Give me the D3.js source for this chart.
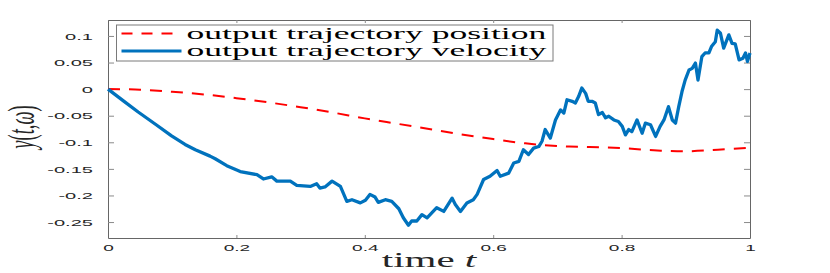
<!DOCTYPE html>
<html>
<head>
<meta charset="utf-8">
<script src="https://cdn.jsdelivr.net/npm/d3@7"></script>
<style>
  html, body { margin: 0; padding: 0; background: #fff; }
  svg { display: block; }
</style>
</head>
<body>
<svg id="chart" width="830" height="273"></svg>
<script>
// position curve (red dashed)
const posT = [0, 0.05, 0.1, 0.15, 0.2, 0.25, 0.3, 0.35, 0.4, 0.45, 0.5, 0.55, 0.6, 0.65, 0.7, 0.75, 0.8, 0.85, 0.9, 0.95, 1];
const posY = [0, -0.001, -0.005, -0.010, -0.017, -0.025, -0.034, -0.044, -0.055, -0.065, -0.075, -0.085, -0.094, -0.102, -0.107, -0.109, -0.111, -0.115, -0.117, -0.114, -0.110];

// velocity curve (blue)
const velT = [0, 0.025, 0.047, 0.075, 0.099, 0.12, 0.136, 0.159, 0.167, 0.185, 0.206, 0.232, 0.242, 0.255, 0.263, 0.284, 0.294, 0.315, 0.325, 0.330, 0.338, 0.349, 0.362,
  0.372, 0.380, 0.393, 0.401, 0.408, 0.416, 0.421, 0.432, 0.442, 0.453, 0.460, 0.468, 0.473, 0.481, 0.489, 0.497, 0.512, 0.523, 0.536, 0.541,
  0.549, 0.559, 0.569, 0.575, 0.585, 0.595, 0.606, 0.611, 0.624, 0.632, 0.640, 0.647, 0.655, 0.663, 0.671, 0.676, 0.681, 0.689, 0.697, 0.705,
  0.710, 0.715, 0.723, 0.728, 0.733, 0.738, 0.744, 0.748, 0.754, 0.759, 0.764, 0.770, 0.775, 0.780, 0.788, 0.795, 0.801, 0.806, 0.811, 0.816,
  0.824, 0.832, 0.837, 0.845, 0.853, 0.860, 0.866, 0.873, 0.879, 0.884, 0.889, 0.894, 0.899, 0.905, 0.910, 0.915, 0.919, 0.925, 0.930, 0.936,
  0.940, 0.946, 0.949, 0.954, 0.959, 0.967, 0.972, 0.977, 0.983, 0.989, 0.993, 0.996, 1.0];
const velY = [0, -0.023, -0.043, -0.067, -0.088, -0.104, -0.114, -0.126, -0.131, -0.144, -0.155, -0.161, -0.169, -0.165, -0.173, -0.173, -0.181, -0.183, -0.178, -0.186, -0.184, -0.173, -0.183,
  -0.211, -0.208, -0.214, -0.209, -0.198, -0.203, -0.213, -0.208, -0.211, -0.225, -0.242, -0.256, -0.248, -0.248, -0.236, -0.242, -0.223, -0.230, -0.205, -0.217,
  -0.230, -0.214, -0.208, -0.198, -0.170, -0.164, -0.153, -0.164, -0.158, -0.139, -0.136, -0.114, -0.123, -0.111, -0.108, -0.098, -0.076, -0.092, -0.058, -0.039,
  -0.045, -0.020, -0.023, -0.026, -0.014, 0.002, -0.008, -0.023, -0.023, -0.026, -0.048, -0.044, -0.054, -0.051, -0.058, -0.061, -0.070, -0.086, -0.076, -0.080,
  -0.058, -0.083, -0.064, -0.067, -0.089, -0.070, -0.058, -0.033, -0.058, -0.064, -0.033, -0.005, 0.017, 0.036, 0.039, 0.049, 0.017, 0.061, 0.068, 0.068,
  0.080, 0.089, 0.111, 0.105, 0.077, 0.102, 0.086, 0.085, 0.055, 0.058, 0.068, 0.052, 0.068];

const xTicks = [0, 0.2, 0.4, 0.6, 0.8, 1];
const xTickLabels = ["0", "0.2", "0.4", "0.6", "0.8", "1"];
const yTicks = [-0.25, -0.2, -0.15, -0.1, -0.05, 0, 0.05, 0.1];
const yTickLabels = ["-0.25", "-0.2", "-0.15", "-0.1", "-0.05", "0", "0.05", "0.1"];
const legendLabels = ["output trajectory position", "output trajectory velocity"];

const SX = 2.05; // the figure is stretched sideways
const plotL = 108, plotR = 750, plotT = 20, plotB = 238;
const svg = d3.select("#chart");

const x = d3.scaleLinear().domain([0, 1]).range([plotL, plotR]);
const y = d3.scaleLinear().domain([-0.28, 0.13]).range([plotB, plotT]);

const axisColor = "#666";
const textColor = "#262626";

function styleAxis(g) {
  g.select(".domain").attr("stroke", axisColor).attr("stroke-width", 1);
  g.selectAll(".tick line").attr("stroke", "#8a8a8a").attr("stroke-width", 1);
}

// bottom / top axes
const gx = svg.append("g").attr("transform", `translate(0,${plotB})`)
  .call(d3.axisBottom(x).tickValues(xTicks).tickFormat((d, i) => xTickLabels[i])
    .tickSizeInner(-3).tickSizeOuter(0).tickPadding(6));
styleAxis(gx);
gx.selectAll("text")
  .attr("font-family", "'Liberation Sans', Arial, sans-serif")
  .attr("font-size", 9.3).attr("fill", textColor)
  .attr("transform", `scale(${SX},1)`);

const gxt = svg.append("g").attr("transform", `translate(0,${plotT})`)
  .call(d3.axisTop(x).tickValues(xTicks).tickFormat("").tickSizeInner(-3).tickSizeOuter(0));
styleAxis(gxt);

// left / right axes
const gy = svg.append("g").attr("transform", `translate(${plotL},0)`)
  .call(d3.axisLeft(y).tickValues(yTicks).tickFormat((d, i) => yTickLabels[i])
    .tickSizeInner(-6).tickSizeOuter(0).tickPadding(15));
styleAxis(gy);
gy.selectAll("text")
  .attr("font-family", "'Liberation Sans', Arial, sans-serif")
  .attr("font-size", 9.8).attr("fill", textColor)
  .attr("x", 0)
  .attr("transform", `translate(-15,0) scale(${SX},1)`);

const gyr = svg.append("g").attr("transform", `translate(${plotR},0)`)
  .call(d3.axisRight(y).tickValues(yTicks).tickFormat("").tickSizeInner(-6).tickSizeOuter(0));
styleAxis(gyr);

// curves
const posData = posT.map((t, i) => [t, posY[i]]);
const velData = velT.map((t, i) => [t, velY[i]]);

svg.append("path").datum(posData)
  .attr("fill", "none").attr("stroke", "#ff0000").attr("stroke-width", 2)
  .attr("stroke-dasharray", "12,9")
  .attr("d", d3.line().x(d => x(d[0])).y(d => y(d[1])).curve(d3.curveCatmullRom));

svg.append("path").datum(velData)
  .attr("fill", "none").attr("stroke", "#0072bd").attr("stroke-width", 3.3)
  .attr("stroke-linejoin", "round")
  .attr("d", d3.line().x(d => x(d[0])).y(d => y(d[1])));

// legend
const lg = svg.append("g");
lg.append("rect").attr("x", 116.5).attr("y", 25).attr("width", 436.5).attr("height", 36)
  .attr("fill", "#fff").attr("stroke", "#7a7a7a").attr("stroke-width", 1);
lg.append("line").attr("x1", 121.5).attr("x2", 181.5).attr("y1", 33.5).attr("y2", 33.5)
  .attr("stroke", "#ff0000").attr("stroke-width", 2).attr("stroke-dasharray", "11,9");
lg.append("line").attr("x1", 121.5).attr("x2", 181.5).attr("y1", 51).attr("y2", 51)
  .attr("stroke", "#0072bd").attr("stroke-width", 3);

const legText = lg.selectAll("text.leg").data(legendLabels).join("text")
  .attr("class", "leg")
  .attr("font-family", "'Liberation Serif', 'Times New Roman', serif")
  .attr("font-size", 16).attr("fill", "#000")
  .text(d => d);
const natural = legText.node().getComputedTextLength();
const lsx = 360 / natural;
legText.attr("transform", (d, i) => `translate(186.5,${i === 0 ? 39 : 55.5}) scale(${lsx},1)`);

// axis titles
const xl = svg.append("text")
  .attr("font-family", "'Liberation Serif', 'Times New Roman', serif")
  .attr("font-size", 20).attr("fill", textColor)
  .attr("text-anchor", "middle")
  .attr("transform", `translate(${(plotL + plotR) / 2},267) scale(${SX},1)`);
xl.append("tspan").text("time ");
xl.append("tspan").attr("font-style", "italic").text("t");

const yl = svg.append("g")
  .attr("transform", `translate(34,127) scale(2,1) rotate(-90)`)
  .append("text")
  .attr("font-family", "'Liberation Serif', 'Times New Roman', serif")
  .attr("font-size", 18.5).attr("fill", textColor)
  .attr("text-anchor", "middle");
yl.append("tspan").attr("font-style", "italic").text("y");
yl.append("tspan").text("(");
yl.append("tspan").attr("font-style", "italic").text("t");
yl.append("tspan").text(",");
yl.append("tspan").attr("font-style", "italic").text("ω");
yl.append("tspan").text(")");
</script>
</body>
</html>
